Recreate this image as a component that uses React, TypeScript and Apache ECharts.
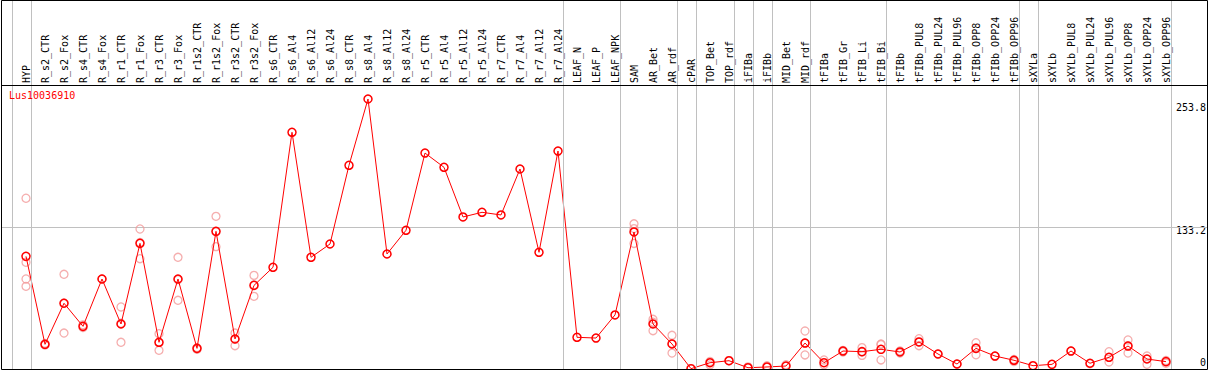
import React, { useEffect, useRef } from "react";
import * as echarts from "echarts";

const categories = [
  "HYP", "R_s2_CTR", "R_s2_Fox", "R_s4_CTR", "R_s4_Fox", "R_r1_CTR", "R_r1_Fox", "R_r3_CTR", "R_r3_Fox",
  "R_r1s2_CTR", "R_r1s2_Fox", "R_r3s2_CTR", "R_r3s2_Fox", "R_s6_CTR", "R_s6_Al4", "R_s6_Al12", "R_s6_Al24",
  "R_s8_CTR", "R_s8_Al4", "R_s8_Al12", "R_s8_Al24", "R_r5_CTR", "R_r5_Al4", "R_r5_Al12", "R_r5_Al24",
  "R_r7_CTR", "R_r7_Al4", "R_r7_Al12", "R_r7_Al24", "LEAF_N", "LEAF_P", "LEAF_NPK", "SAM", "AR_Bet", "AR_rdf",
  "cPAR", "TOP_Bet", "TOP_rdf", "iFIBa", "iFIBb", "MID_Bet", "MID_rdf", "tFIBa", "tFIB_Gr", "tFIB_Li", "tFIB_Bi",
  "tFIBb", "tFIBb_PUL8", "tFIBb_PUL24", "tFIBb_PUL96", "tFIBb_OPP8", "tFIBb_OPP24", "tFIBb_OPP96",
  "sXYLa", "sXYLb", "sXYLb_PUL8", "sXYLb_PUL24", "sXYLb_PUL96", "sXYLb_OPP8", "sXYLb_OPP24", "sXYLb_OPP96",
];

const meanValues = [
  105.9, 23.2, 61.8, 40.1, 84.6, 42.3, 118.1, 25.1, 84.6, 19.4, 129.4, 28.2, 78.6, 95.6,
  222.5, 105.0, 117.5, 191.5, 253.8, 108.1, 130.4, 203.0, 189.6, 142.9, 147.3, 144.8, 188.0, 109.7, 204.9,
  29.8, 29.1, 50.8, 128.8, 42.3, 23.5, 0.3, 5.9, 7.8, 1.2, 1.9, 2.8, 24.4, 5.9, 16.9, 16.3, 18.5,
  16.0, 25.4, 14.1, 4.7, 19.4, 12.2, 8.2, 3.1, 4.4, 16.9, 5.4, 11.0, 21.6, 9.4, 6.9,
];

const replicateValues: number[][] = [
  [160.5, 100.3, 84.6, 77.7], [22.5, 24], [89.0, 33.8, 62], [39, 41.5], [84.6], [58.3, 25.1, 43],
  [131.6, 103.7, 119], [33.2, 17.6, 25], [105.0, 64.6, 84], [18.5, 20], [143.5, 115.0, 129],
  [33.8, 21.9, 28], [88.0, 68.3, 79], [], [], [], [], [], [], [], [], [], [], [], [], [], [], [], [],
  [], [], [], [136.5, 132, 118], [46.7, 36.0, 44], [31.7, 15.0, 24], [0.3], [3.8, 7], [7.8], [2], [3], [4],
  [35.7, 13.2, 24.4], [8.5, 4], [17.5, 16], [20.1, 12.8, 16], [23.5, 8.5, 23], [17, 15],
  [28.5, 21.9, 25.5], [14], [4.5], [24.7, 13.4, 20], [12], [9, 7], [], [], [17], [5], [16.3, 6.6],
  [27.3, 15.0, 22], [12.2, 4.4], [5.4, 8],
];

const yTickLabels = [0, 133.2, 253.8];
const gridLineValues = [133.2];
const groupEnds = ["HYP", "R_r7_Al24", "LEAF_NPK", "AR_rdf", "cPAR", "TOP_rdf", "iFIBa", "iFIBb", "MID_rdf",
  "tFIB_Bi", "tFIBb_OPP96", "sXYLa", "sXYLb_OPP96"];
const geneName = "Lus10036910";

export default function App() {
  const ref = useRef<HTMLDivElement>(null);
  useEffect(() => {
    if (!ref.current) return;
    const chart = echarts.init(ref.current, null, { renderer: "svg" });
    const font = "DejaVu Sans Mono";
    const xMin = -25 / 19;
    const xMax = xMin + 1206 / 19;
    const meanData = meanValues.map((v, i) => [i, v]);
    const repData: number[][] = [];
    replicateValues.forEach((arr, i) => arr.forEach((v) => repData.push([i, v])));
    const separators = [-1, ...groupEnds.map((g) => categories.indexOf(g))].map((i) => ({ xAxis: i + 0.25 }));

    chart.setOption({
      animation: false,
      title: {
        text: geneName,
        left: 9,
        top: 90,
        padding: 0,
        textStyle: { color: "#ff0000", fontSize: 10, fontWeight: "normal", fontFamily: font },
      },
      grid: [
        { left: 1, top: 99, width: 1206, height: 270 },
        { left: 16.5, top: 85, width: 1159, height: 284 },
        { left: 1, top: 0, width: 1206, height: 369 },
      ],
      xAxis: [
        { type: "value", gridIndex: 0, min: xMin, max: xMax, show: false },
        {
          type: "category",
          gridIndex: 1,
          position: "top",
          data: categories,
          axisLine: { show: false },
          axisTick: { show: false },
          splitLine: { show: false },
          axisLabel: { rotate: 90, interval: 0, margin: 2, color: "#000", fontSize: 10, fontFamily: font },
        },
        { type: "value", gridIndex: 2, min: xMin, max: xMax, show: false },
      ],
      yAxis: [
        {
          type: "value",
          gridIndex: 0,
          min: 0,
          max: 253.8,
          position: "right",
          axisLine: { show: false },
          axisTick: { show: false },
          splitLine: { show: false },
          axisLabel: {
            inside: true,
            margin: 1,
            showMinLabel: true,
            showMaxLabel: true,
            customValues: yTickLabels,
            color: "#000",
            fontSize: 10,
            fontFamily: font,
            formatter: (v: number) => (v === 0 ? "{b|0}" : v > 200 ? "{t|" + v + "}" : "{m|" + v + "}"),
            rich: {
              b: { fontSize: 10, fontFamily: font, color: "#000", padding: [0, 0, 13, 0] },
              m: { fontSize: 10, fontFamily: font, color: "#000", padding: [6, 0, 0, 0] },
              t: { fontSize: 10, fontFamily: font, color: "#000", padding: [17, 0, 0, 0] },
            },
          },
        },
        { type: "value", gridIndex: 1, show: false, min: 0, max: 1 },
        { type: "value", gridIndex: 2, show: false, min: 0, max: 1 },
      ],
      series: [
        {
          type: "line",
          xAxisIndex: 2,
          yAxisIndex: 2,
          data: [],
          silent: true,
          markLine: {
            silent: true,
            symbol: "none",
            label: { show: false },
            lineStyle: { color: "#c0c0c0", width: 1, type: "solid" },
            data: separators,
          },
        },
        {
          type: "scatter",
          xAxisIndex: 0,
          yAxisIndex: 0,
          data: repData,
          symbol: "circle",
          symbolSize: 8,
          z: 2,
          itemStyle: { color: "transparent", borderColor: "#f29a9a", borderWidth: 1.3 },
        },
        {
          type: "line",
          xAxisIndex: 0,
          yAxisIndex: 0,
          data: meanData,
          symbol: "circle",
          symbolSize: 8,
          showAllSymbol: true,
          clip: false,
          z: 3,
          lineStyle: { color: "#ff0000", width: 1 },
          itemStyle: { color: "transparent", borderColor: "#ff0000", borderWidth: 1.5 },
          markLine: {
            silent: true,
            symbol: "none",
            label: { show: false },
            lineStyle: { color: "#c0c0c0", width: 1, type: "solid" },
            data: gridLineValues.map((v) => ({ yAxis: v })),
            z: 1,
          },
        },
      ],
      graphic: [
        {
          type: "rect",
          shape: { x: 1.5, y: 0.5, width: 1206, height: 369 },
          style: { fill: "none", stroke: "#000", lineWidth: 1 },
          silent: true,
          z: 100,
        },
        {
          type: "line",
          shape: { x1: 1.5, y1: 85.5, x2: 1207.5, y2: 85.5 },
          style: { stroke: "#000", lineWidth: 1 },
          silent: true,
          z: 100,
        },
      ],
    });
    return () => chart.dispose();
  }, []);
  return (
    <div
      ref={ref}
      style={{ position: "fixed", left: 0, top: 0, width: 1209, height: 370, background: "#fff" }}
    />
  );
}
